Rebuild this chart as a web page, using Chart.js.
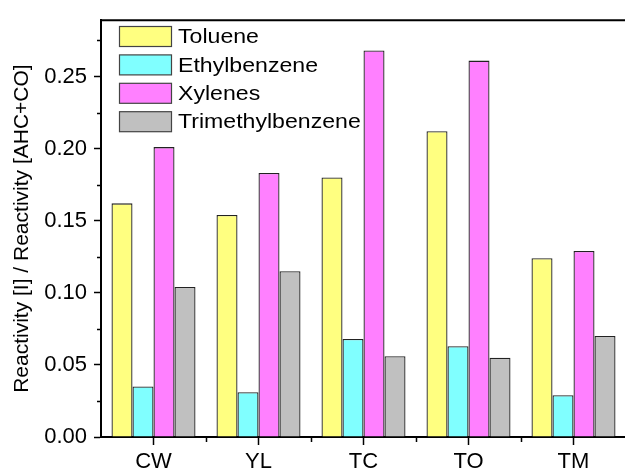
<!DOCTYPE html>
<html>
<head>
<meta charset="utf-8">
<script src="https://cdn.jsdelivr.net/npm/chart.js@4/dist/chart.umd.min.js"></script>
<style>
  html, body { margin: 0; padding: 0; background: #fff; overflow: hidden; }
  #wrap { width: 626px; height: 471px; position: relative; }
</style>
</head>
<body>
<div id="wrap"><canvas id="reactChart"></canvas></div>
<script>
// Chart data
const sites = ['CW', 'YL', 'TC', 'TO', 'TM'];
const seriesNames = ['Toluene', 'Ethylbenzene', 'Xylenes', 'Trimethylbenzene'];
const toluene = [0.162, 0.154, 0.180, 0.212, 0.124];
const ethylbenzene = [0.035, 0.031, 0.068, 0.063, 0.029];
const xylenes = [0.201, 0.183, 0.268, 0.261, 0.129];
const trimethylbenzene = [0.104, 0.115, 0.056, 0.055, 0.070];
const yTicks = [0, 0.05, 0.10, 0.15, 0.20, 0.25];
const yMinorTicks = [0.025, 0.075, 0.125, 0.175, 0.225, 0.275];

const fillColors = ['#FFFF80', '#80FFFF', '#FF80FF', '#C0C0C0'];
const FONT = "Arial, 'Liberation Sans', sans-serif";

// Draws top frame line, minor ticks and the in-plot legend
const extrasPlugin = {
  id: 'extras',
  afterDraw(chart) {
    const ctx = chart.ctx;
    const area = chart.chartArea;
    const x = chart.scales.x;
    const y = chart.scales.y;
    ctx.save();
    ctx.strokeStyle = '#000';
    ctx.lineWidth = 2;
    ctx.beginPath();
    ctx.moveTo(area.left - 1, area.top);
    ctx.lineTo(area.right + 2, area.top);
    ctx.stroke();

    // minor ticks
    ctx.lineWidth = 1.5;
    ctx.beginPath();
    yMinorTicks.forEach(v => {
      const py = Math.round(y.getPixelForValue(v)) + 0.5;
      ctx.moveTo(area.left - 4, py);
      ctx.lineTo(area.left, py);
    });
    for (let i = 0; i < sites.length - 1; i++) {
      const px = Math.round((x.getPixelForValue(i) + x.getPixelForValue(i + 1)) / 2) + 0.5;
      ctx.moveTo(px, area.bottom);
      ctx.lineTo(px, area.bottom + 5);
    }
    ctx.stroke();

    // legend (text is slightly wider than tall in the original)
    chart.data.datasets.forEach((ds, i) => {
      const bx = 119.5, by = 26.5 + i * 28.4;
      ctx.fillStyle = ds.backgroundColor;
      ctx.fillRect(bx, by, 52, 20);
      ctx.strokeStyle = '#444';
      ctx.lineWidth = 1.2;
      ctx.strokeRect(bx, by, 52, 20);
      ctx.save();
      ctx.translate(178, by + 11);
      ctx.scale(1.1, 1);
      ctx.font = '21px ' + FONT;
      ctx.textBaseline = 'middle';
      ctx.textAlign = 'left';
      ctx.fillStyle = '#000';
      ctx.fillText(ds.label, 0, 0);
      ctx.restore();
    });
    ctx.restore();
  }
};

const seriesData = [toluene, ethylbenzene, xylenes, trimethylbenzene];

const ctx = document.getElementById('reactChart').getContext('2d');
new Chart(ctx, {
  type: 'bar',
  data: {
    labels: sites,
    datasets: seriesNames.map((name, i) => ({
      label: name,
      data: seriesData[i],
      backgroundColor: fillColors[i],
      borderColor: '#222',
      borderWidth: 1.3,
      categoryPercentage: 0.8,
      barPercentage: 1.0
    }))
  },
  options: {
    responsive: true,
    maintainAspectRatio: false,
    animation: false,
    devicePixelRatio: 1,
    layout: { padding: { top: 13, left: 0, right: 0, bottom: 0 } },
    plugins: {
      legend: { display: false },
      tooltip: { enabled: false }
    },
    scales: {
      x: {
        offset: true,
        afterFit: scale => { scale.height = 34; },
        grid: {
          offset: false,
          drawOnChartArea: false,
          drawTicks: true,
          tickLength: 8,
          tickWidth: 1.5,
          tickColor: '#000'
        },
        border: { color: '#000', width: 2 },
        ticks: {
          color: '#000',
          padding: 4,
          font: { family: FONT, size: 22 }
        }
      },
      y: {
        min: 0,
        max: 0.289,
        afterFit: scale => { scale.width = 101; },
        afterBuildTicks: scale => {
          scale.ticks = yTicks.map(v => ({ value: v }));
        },
        grid: {
          drawOnChartArea: false,
          drawTicks: true,
          tickLength: 7,
          tickWidth: 1.5,
          tickColor: '#000'
        },
        border: { color: '#000', width: 2 },
        ticks: {
          color: '#000',
          padding: 7,
          font: { family: FONT, size: 22 },
          callback: v => Number(v).toFixed(2)
        },
        title: {
          display: true,
          text: 'Reactivity [I] / Reactivity [AHC+CO]',
          color: '#000',
          padding: { top: 10, bottom: 0 },
          font: { family: FONT, size: 21 }
        }
      }
    }
  },
  plugins: [extrasPlugin]
});
</script>
</body>
</html>
